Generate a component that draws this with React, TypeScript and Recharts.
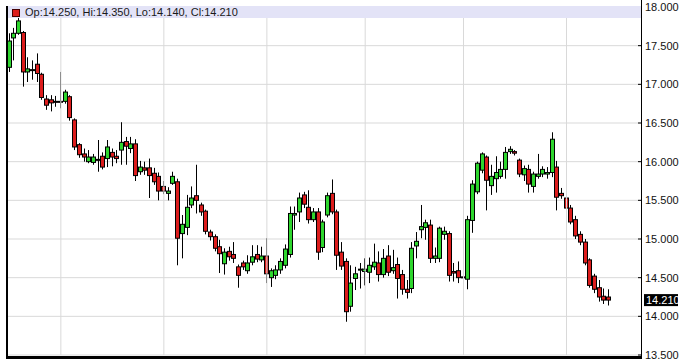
// Daily candlestick chart, ~6 months, right-hand price axis.
import { ComposedChart, Bar, XAxis, YAxis, CartesianGrid, ReferenceLine } from "recharts";

// ─── DATA ────────────────────────────────────────────────────────────────────

const openP = [
  17.22, 17.6, 17.66, 17.67, 17.16, 17.19, 17.26, 17.13, 16.81, 16.8,
  16.78, 16.78, 16.78, 16.84, 16.54, 16.22, 16.1, 16.0, 15.99, 16.03,
  16.07, 16.04, 16.12, 16.07, 16.15, 16.26, 16.17, 16.23, 15.87, 15.92,
  15.92, 15.85, 15.81, 15.68, 15.59, 15.72, 15.74, 15.07, 15.15, 15.44,
  15.56, 15.44, 15.36, 15.09, 15.03, 14.9, 14.68, 14.84, 14.8, 14.64,
  14.69, 14.59, 14.7, 14.8, 14.73, 14.78, 14.5, 14.53, 14.6, 14.66,
  14.8, 15.31, 15.35, 15.57, 15.41, 15.25, 15.35, 14.89, 15.31, 15.59,
  15.35, 14.83, 14.71, 14.13, 14.49, 14.6, 14.58, 14.57, 14.64, 14.69,
  14.54, 14.78, 14.59, 14.67, 14.54, 14.35, 14.36, 14.91, 15.12, 15.15,
  15.18, 14.75, 14.75, 15.06, 15.07, 14.58, 14.59, 14.51, 14.48, 15.24,
  15.61, 15.89, 16.06, 15.69, 15.78, 15.81, 15.9, 16.13, 16.13, 16.02,
  15.83, 15.9, 15.68, 15.81, 15.84, 15.84, 15.86, 15.93, 15.59, 15.53,
  15.4, 15.25, 15.06, 14.96, 14.73, 14.52, 14.37, 14.26, 14.25,
];

const highP = [
  17.66, 17.73, 17.87, 17.69, 17.35, 17.31, 17.4, 17.15, 16.86, 16.86,
  16.85, 17.16, 16.93, 16.86, 16.56, 16.24, 16.17, 16.15, 16.1, 16.28,
  16.12, 16.28, 16.17, 16.15, 16.51, 16.32, 16.32, 16.29, 16.01, 16.0,
  16.04, 15.92, 15.86, 15.75, 15.67, 15.87, 15.78, 15.31, 15.57, 15.68,
  15.96, 15.47, 15.38, 15.12, 15.06, 14.99, 14.88, 14.9, 14.96, 14.67,
  14.72, 14.79, 14.92, 14.92, 14.9, 15.01, 14.62, 14.66, 14.75, 14.93,
  15.42, 15.42, 15.6, 15.61, 15.63, 15.4, 15.4, 15.25, 15.6, 15.77,
  15.38, 14.96, 14.75, 14.66, 14.64, 14.69, 14.75, 14.76, 14.94, 14.84,
  14.87, 14.92, 14.86, 14.76, 14.6, 14.47, 14.96, 15.09, 15.44, 15.25,
  15.25, 14.89, 15.16, 15.16, 15.1, 14.69, 14.71, 14.66, 15.3, 15.76,
  16.0, 16.12, 16.08, 15.96, 16.07, 16.0, 16.19, 16.2, 16.15, 16.04,
  15.95, 15.96, 15.87, 16.1, 15.94, 15.93, 16.38, 16.01, 15.66, 15.56,
  15.44, 15.3, 15.1, 15.0, 14.75, 14.55, 14.47, 14.36, 14.35,
];

const lowP = [
  17.16, 17.31, 17.64, 16.97, 17.03, 17.06, 17.03, 16.8, 16.67, 16.65,
  16.71, 16.69, 16.75, 16.53, 16.15, 16.05, 16.0, 15.98, 15.96, 15.87,
  15.9, 15.93, 15.94, 15.98, 15.96, 15.96, 16.11, 15.75, 15.83, 15.83,
  15.53, 15.7, 15.5, 15.58, 15.5, 15.7, 14.66, 14.75, 15.05, 15.4,
  15.33, 15.3, 15.06, 14.98, 14.84, 14.56, 14.54, 14.72, 14.69, 14.37,
  14.6, 14.55, 14.66, 14.7, 14.7, 14.43, 14.38, 14.48, 14.55, 14.62,
  14.76, 15.12, 15.22, 15.4, 15.2, 15.22, 14.73, 14.83, 15.28, 15.32,
  14.6, 14.6, 13.93, 14.06, 14.34, 14.36, 14.4, 14.43, 14.6, 14.45,
  14.5, 14.52, 14.55, 14.23, 14.28, 14.23, 14.3, 14.75, 15.01, 14.99,
  14.69, 14.69, 14.7, 14.99, 14.45, 14.45, 14.43, 14.43, 14.35, 15.08,
  15.58, 15.85, 15.37, 15.57, 15.6, 15.78, 15.78, 16.1, 16.08, 15.8,
  15.75, 15.6, 15.6, 15.78, 15.8, 15.78, 15.8, 15.37, 15.52, 15.38,
  15.19, 15.0, 14.92, 14.66, 14.37, 14.3, 14.19, 14.16, 14.14,
];

const closeP = [
  17.56, 17.66, 17.82, 17.16, 17.2, 17.18, 17.14, 16.83, 16.73, 16.76,
  16.77, 16.77, 16.9, 16.57, 16.19, 16.09, 16.06, 16.06, 16.06, 16.02,
  15.93, 16.19, 16.06, 16.04, 16.25, 16.2, 16.23, 15.82, 15.93, 15.89,
  15.82, 15.74, 15.62, 15.62, 15.62, 15.81, 15.01, 15.19, 15.41, 15.53,
  15.5, 15.35, 15.1, 15.03, 14.88, 14.81, 14.83, 14.77, 14.75, 14.53,
  14.64, 14.69, 14.77, 14.74, 14.78, 14.55, 14.59, 14.6, 14.71, 14.87,
  15.33, 15.33, 15.53, 15.45, 15.25, 15.35, 14.83, 15.22, 15.56, 15.35,
  14.79, 14.65, 14.06, 14.43, 14.55, 14.61, 14.61, 14.66, 14.7, 14.54,
  14.75, 14.57, 14.63, 14.49, 14.35, 14.31, 14.88, 14.97, 15.16, 15.21,
  14.75, 14.78, 15.14, 15.1, 14.53, 14.56, 14.5, 14.5, 15.25, 15.71,
  15.98, 16.1, 15.76, 15.81, 15.86, 15.9, 16.12, 16.16, 16.11, 15.84,
  15.91, 15.71, 15.84, 15.84, 15.9, 15.86, 16.29, 15.54, 15.56, 15.4,
  15.22, 15.04, 14.96, 14.69, 14.4, 14.35, 14.25, 14.21, 14.21,
];

// price axis ticks
const priceTicks = [13.5, 14, 14.5, 15, 15.5, 16, 16.5, 17, 17.5, 18];

// candle index where each month gridline falls
const monthLines = [11, 33, 55, 76, 97, 119];

const UP = "#2ed62e";
const DOWN = "#dc1c1c";
const GRID = "#d9d9d9";
const FONT = "'Liberation Sans', Arial, sans-serif";

const data = openP.map((o, i) => ({
  i,
  open: o,
  high: highP[i],
  low: lowP[i],
  close: closeP[i],
  range: [lowP[i], highP[i]],
}));

const last = data[data.length - 1];

// ─── SHAPES ──────────────────────────────────────────────────────────────────

function Candle(props: any) {
  const { x, y, width, height, payload } = props;
  if (x == null || y == null) return null;
  const { open, close, high, low } = payload;
  const yHi = Math.min(y, y + height);
  const yLo = Math.max(y, y + height);
  const span = high - low || 1;
  const px = (v: number) => yHi + ((high - v) / span) * (yLo - yHi);
  const cx = Math.floor(x + width / 2) + 0.5;
  const top = px(Math.max(open, close));
  const bot = px(Math.min(open, close));
  return (
    <g>
      <line x1={cx} x2={cx} y1={yHi} y2={yLo} stroke="#000" strokeWidth={1} />
      <rect
        x={cx - 2}
        y={top}
        width={4}
        height={Math.max(bot - top, 1)}
        fill={close > open ? UP : DOWN}
        stroke="#000"
        strokeWidth={1}
      />
    </g>
  );
}

function PriceTick(props: any) {
  const { x, y, payload } = props;
  return (
    <g>
      <line x1={x - 7} x2={x - 4} y1={y} y2={y} stroke="#000" />
      <text x={x} y={y} dy={4} fontSize={11} fill="#111" fontFamily={FONT}>
        {payload.value.toFixed(3)}
      </text>
    </g>
  );
}

function LastPriceLabel(props: any) {
  const { viewBox } = props;
  if (!viewBox) return null;
  const rx = viewBox.x + viewBox.width + 3;
  return (
    <g>
      <rect x={rx} y={viewBox.y - 6} width={34} height={12} fill="#000" />
      <text x={rx + 2} y={viewBox.y + 4} fontSize={11} fill="#fff" fontFamily={FONT}>
        {last.close.toFixed(3)}
      </text>
    </g>
  );
}

// ─── MAIN ────────────────────────────────────────────────────────────────────

export default function App() {
  return (
    <div style={{ position: "relative", width: 681, height: 359, background: "#fff", overflow: "hidden" }}>
      <style>{"body{margin:0}"}</style>
      <ComposedChart width={681} height={359} data={data} margin={{ top: 7, right: 0, bottom: 0, left: 7 }}>
        <CartesianGrid stroke={GRID} vertical={false} />
        <XAxis
          dataKey="i"
          type="category"
          tick={false}
          tickLine={false}
          axisLine={false}
          height={4}
          padding={{ left: 0, right: 30 }}
        />
        <YAxis
          orientation="right"
          width={40}
          domain={[13.5, 18]}
          ticks={priceTicks}
          interval={0}
          allowDataOverflow
          tickLine={false}
          tickSize={4}
          tickMargin={0}
          axisLine={false}
          tick={<PriceTick />}
        />
        {monthLines.map((m) => (
          <ReferenceLine key={m} x={m} stroke={GRID} strokeWidth={1} />
        ))}
        <ReferenceLine y={last.close} stroke="none" label={<LastPriceLabel />} />
        <Bar dataKey="range" barSize={5} shape={<Candle />} isAnimationActive={false} />
      </ComposedChart>

      {/* header strip with last bar values */}
      <div
        style={{
          position: "absolute",
          left: 8,
          top: 6,
          width: 633,
          height: 12,
          background: "#e3e3f7",
          fontFamily: FONT,
          fontSize: 11,
          lineHeight: "13px",
          color: "#1a1a1a",
          whiteSpace: "nowrap",
        }}
      >
        <span
          style={{
            position: "absolute",
            left: 4,
            top: 3,
            width: 6,
            height: 6,
            background: DOWN,
            border: "1px solid #400",
          }}
        />
        <span style={{ position: "absolute", left: 17, top: 0 }}>
          {`Op:${last.open.toFixed(3)}, Hi:${last.high.toFixed(3)}, Lo:${last.low.toFixed(3)}, Cl:${last.close.toFixed(3)}`}
        </span>
      </div>

      {/* frame lines */}
      <div style={{ position: "absolute", left: 6, top: 6, width: 2, height: 353, background: "#000" }} />
      <div style={{ position: "absolute", left: 641, top: 0, width: 1, height: 359, background: "#000" }} />
      <div style={{ position: "absolute", left: 6, top: 356, width: 635, height: 3, background: "#000" }} />
    </div>
  );
}
